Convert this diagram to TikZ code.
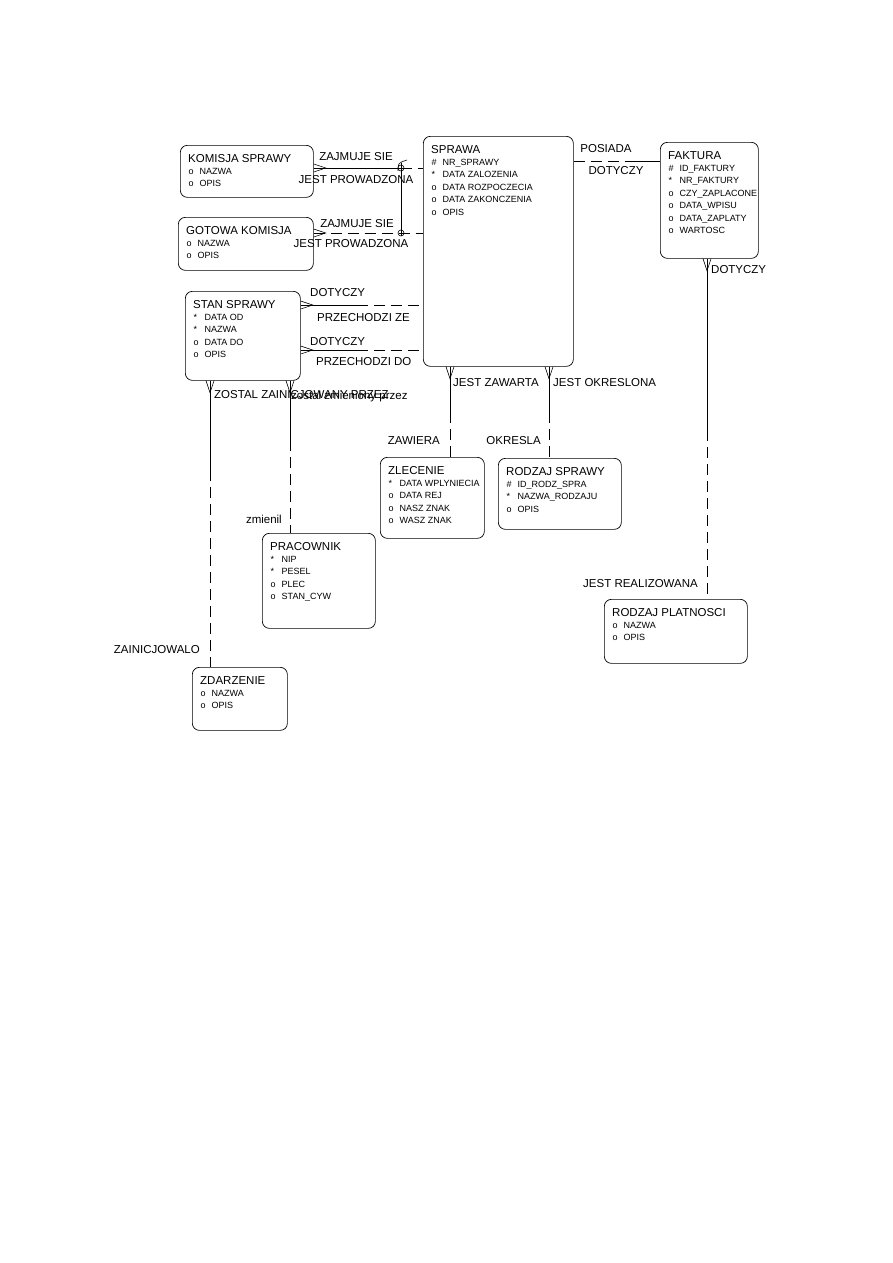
\documentclass[tikz,border=0pt]{standalone}
\usepackage{fontspec}
\setmainfont{Liberation Sans}
\usetikzlibrary{calc}
\newcommand\entity[7]{%
 \node[ebox, minimum width=#4pt, minimum height=#5pt] (#1) at (#2,#3) {};
 \node[etitle] (#1t) at ([shift={(8pt,-17pt)}]#1.north west) {#6};
 \foreach[count=\ii] \mk/\tx in {#7} {\node[eattr] (#1a\ii) at ([shift={(8.5pt,{-(17+12.4*\ii)*1pt})}]#1.north west) {\makebox[11pt][l]{\mk}\tx};}
}
% crow's foot: horizontal, opening into box on the left (point #1 on box edge, foot to the right)
\newcommand\crowR[1]{\draw[conn] ([yshift=4pt]#1) -- ([xshift=12pt]#1) -- ([yshift=-4pt]#1);}
% crow's foot: vertical, box above (point #1 on bottom edge, foot downward)
\newcommand\crowD[1]{\draw[conn] ([xshift=-4pt]#1) -- ([yshift=-12pt]#1) -- ([xshift=4pt]#1);}
\begin{document}
\begin{tikzpicture}[x=1pt,y=-1pt,
 ebox/.style={draw, rounded corners=7pt, line width=0.7pt, anchor=north west, inner sep=0pt},
 etitle/.style={font=\fontsize{11.5}{12}\selectfont, anchor=base west, inner sep=0pt},
 eattr/.style={font=\fontsize{9}{10}\selectfont, anchor=base west, inner sep=0pt},
 lbl/.style={font=\fontsize{11.5}{12}\selectfont, inner sep=0pt},
 conn/.style={line width=0.6pt},
 dconn/.style={line width=0.6pt, dash pattern=on 11pt off 6pt},
]
\useasboundingbox (0,0) rectangle (893,1263);
\fill[white] (0,0) rectangle (893,1263);

% ---------- entities ----------
\entity{komisja}{180}{145}{133}{52}{KOMISJA SPRAWY}{o/NAZWA, o/OPIS}
\entity{gotowa}{178}{217}{135}{53}{GOTOWA KOMISJA}{o/NAZWA, o/OPIS}
\entity{sprawa}{423}{136}{150}{230}{SPRAWA}{\#/NR\_SPRAWY, */DATA ZALOZENIA, o/DATA ROZPOCZECIA, o/DATA ZAKONCZENIA, o/OPIS}
\entity{faktura}{660}{142}{98}{116}{FAKTURA}{\#/ID\_FAKTURY, */NR\_FAKTURY, o/CZY\_ZAPLACONE, o/DATA\_WPISU, o/DATA\_ZAPLATY, o/WARTOSC}
\entity{stan}{185}{291}{115}{89}{STAN SPRAWY}{*/DATA OD, */NAZWA, o/DATA DO, o/OPIS}
\entity{zlecenie}{380}{457}{104}{81}{ZLECENIE}{*/DATA WPLYNIECIA, o/DATA REJ, o/NASZ ZNAK, o/WASZ ZNAK}
\entity{rodzaj}{498}{458}{123}{71}{RODZAJ SPRAWY}{\#/ID\_RODZ\_SPRA, */NAZWA\_RODZAJU, o/OPIS}
\entity{pracownik}{262}{533}{113}{95}{PRACOWNIK}{*/NIP, */PESEL, o/PLEC, o/STAN\_CYW}
\entity{zdarzenie}{192}{667}{95}{63}{ZDARZENIE}{o/NAZWA, o/OPIS}
\entity{platnosc}{604}{599}{143}{64}{RODZAJ PLATNOSCI}{o/NAZWA, o/OPIS}

% ---------- connector reference coordinates ----------
\coordinate (h1) at (401,168);
\coordinate (h2) at (401,233);
\coordinate (h3) at (635,161);
\coordinate (h5) at (357,305);
\coordinate (h6) at (357,350);
\coordinate (v4) at (707,430);
\coordinate (v7) at (450,412);
\coordinate (v8) at (549,412);
\coordinate (v9) at (210,470);
\coordinate (v10) at (290,440);

% 1 KOMISJA SPRAWY - SPRAWA
\draw[conn] (komisja.east |- h1) -- (h1);
\draw[dconn] (h1) -- (sprawa.west |- h1);
\crowR{komisja.east |- h1}
% 2 GOTOWA KOMISJA - SPRAWA
\draw[dconn] (gotowa.east |- h2) -- (sprawa.west |- h2);
\crowR{gotowa.east |- h2}
% exclusive arc
\draw[conn] ([yshift=5pt]h1) -- ([yshift=-3pt]h2);
\draw[conn] (h1) circle (3);
\draw[conn] (h2) circle (3);
\draw[conn] ([shift={(-3pt,-3pt)}]h1) .. controls ([shift={(-3pt,5pt)}]h1) .. ([shift={(6pt,8pt)}]h1);
% 3 SPRAWA - FAKTURA
\draw[dconn] (sprawa.east |- h3) -- (h3);
\draw[conn] (h3) -- (faktura.west |- h3);
% 4 FAKTURA - RODZAJ PLATNOSCI
\draw[conn] (faktura.south -| v4) -- (v4);
\draw[dconn] (v4) -- (platnosc.north -| v4);
\crowD{faktura.south -| v4}
% 5,6 STAN SPRAWY - SPRAWA
\draw[conn] (stan.east |- h5) -- (h5);
\draw[dconn] (h5) -- (sprawa.west |- h5);
\crowR{stan.east |- h5}
\draw[conn] (stan.east |- h6) -- (h6);
\draw[dconn] (h6) -- (sprawa.west |- h6);
\crowR{stan.east |- h6}
% 7 SPRAWA - ZLECENIE
\draw[conn] (sprawa.south -| v7) -- (v7);
\draw[dconn] (v7) -- (zlecenie.north -| v7);
\crowD{sprawa.south -| v7}
% 8 SPRAWA - RODZAJ SPRAWY
\draw[conn] (sprawa.south -| v8) -- (v8);
\draw[dconn] (v8) -- (rodzaj.north -| v8);
\crowD{sprawa.south -| v8}
% 9 STAN SPRAWY - ZDARZENIE
\draw[conn] (stan.south -| v9) -- (v9);
\draw[dconn] (v9) -- (zdarzenie.north -| v9);
\crowD{stan.south -| v9}
% 10 STAN SPRAWY - PRACOWNIK
\draw[conn] (stan.south -| v10) -- (v10);
\draw[dconn] (v10) -- (pracownik.north -| v10);
\crowD{stan.south -| v10}

% ---------- labels ----------
\node[lbl] (l1) at (356,157) {ZAJMUJE SIE};
\node[lbl] (l2) at (356,180) {JEST PROWADZONA};
\node[lbl] (l3) at (357,224) {ZAJMUJE SIE};
\node[lbl] (l4) at (351,244) {JEST PROWADZONA};
\node[lbl] (l5) at (606,149) {POSIADA};
\node[lbl] (l6) at (616,171) {DOTYCZY};
\node[lbl, anchor=west] (l7) at (711,270) {DOTYCZY};
\node[lbl, anchor=east] (l8) at (698,584) {JEST REALIZOWANA};
\node[lbl, anchor=west] (l9) at (310,293) {DOTYCZY};
\node[lbl, anchor=west] (l10) at (317,318) {PRZECHODZI ZE};
\node[lbl, anchor=west] (l11) at (310,342) {DOTYCZY};
\node[lbl, anchor=west] (l12) at (316,362) {PRZECHODZI DO};
\node[lbl, anchor=west] (l13) at (453,383) {JEST ZAWARTA};
\node[lbl, anchor=east] (l14) at (440,441) {ZAWIERA};
\node[lbl, anchor=west] (l15) at (553,383) {JEST OKRESLONA};
\node[lbl, anchor=east] (l16) at (541,441) {OKRESLA};
\node[lbl, anchor=west] (l17) at (214,395) {ZOSTAL ZAINICJOWANY PRZEZ};
\node[lbl, anchor=base west] (l18) at (291,399) {zostal zmieniony przez};
\node[lbl, anchor=base east] (l19) at (282,523) {zmienil};
\node[lbl, anchor=east] (l20) at (200,650) {ZAINICJOWALO};
\end{tikzpicture}
\end{document}
